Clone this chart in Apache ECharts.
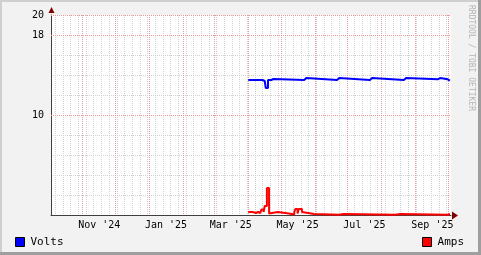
<!DOCTYPE html>
<html><head><meta charset="utf-8">
<script src="https://cdn.jsdelivr.net/npm/echarts@6/dist/echarts.min.js"></script>
<style>html,body{margin:0;padding:0;background:#f2f2f2}#c{width:481px;height:255px}</style>
</head><body><div id="c"></div>
<script>
// ---- data ----
const xRange = ['2024-10-03', '2025-10-03'];
const firstMonday = '2024-10-07';
const monthStarts = ['2024-11-01','2024-12-01','2025-01-01','2025-02-01','2025-03-01','2025-04-01',
  '2025-05-01','2025-06-01','2025-07-01','2025-08-01','2025-09-01','2025-10-01'];
const labelDates = ['2024-11-16','2025-01-16','2025-03-16','2025-05-16','2025-07-16','2025-09-16'];
const labelTexts = ["Nov '24","Jan '25","Mar '25","May '25","Jul '25","Sep '25"];
const yLabelValues = [10, 18, 20];

const voltsDates = ['2025-04-01','2025-04-14','2025-04-16','2025-04-17','2025-04-19','2025-04-22','2025-04-24',
  '2025-05-22','2025-05-24','2025-06-21','2025-06-23','2025-07-21','2025-07-23','2025-08-21','2025-08-23',
  '2025-09-21','2025-09-23','2025-09-30','2025-10-02'];
const voltsValues = [13.5,13.4,13.2,12.7,13.5,13.6,13.5,13.7,13.5,13.7,13.5,13.7,13.5,13.7,13.57,13.7,13.57,13.43,13.43];

const ampsDates = ['2025-04-01','2025-04-05','2025-04-08','2025-04-10','2025-04-12','2025-04-13','2025-04-15',
  '2025-04-16','2025-04-18','2025-04-20','2025-04-21','2025-04-28','2025-04-29','2025-05-08','2025-05-13',
  '2025-05-14','2025-05-16','2025-05-17','2025-05-20','2025-05-21','2025-05-31','2025-06-23','2025-06-27',
  '2025-08-13','2025-08-18','2025-09-30','2025-10-02'];
const ampsValues = [0.3,0.2,0.3,0.2,0.35,0.55,0.3,0.9,2.7,0.15,0.3,0.35,0.15,0.05,0.3,0.6,0.15,0.6,0.3,0.1,0.03,0.1,0.02,
  0.1,0.02,0.1,0.1];

// ---- build ----
const P = s => echarts.time.parse(s).getTime();
const DAY = 86400000;
const xMin = P(xRange[0]), xMax = P(xRange[1]);
const weekTicks = [];
for (let t = P(firstMonday); t < xMax; t += 7 * DAY) weekTicks.push(t);
const monthTicks = monthStarts.map(P);
const labelTicks = labelDates.map(P);
const labelMap = {};
labelTicks.forEach((t, i) => { labelMap[t] = labelTexts[i]; });

// each value holds from its date until the next date (rrdtool-style steps)
function toSteps(dates, values) {
  const out = [];
  dates.forEach((d, i) => {
    const t = P(d);
    if (i > 0) out.push([t, values[i - 1]]);
    out.push([t, values[i]]);
  });
  return out;
}

const FONT = 'DejaVu Sans Mono';
const gridGrey = '#d2d2d2';
const gridRed = '#eb9a9a';
const axisCol = '#404040';

const L = 51, T = 15, W = 400, H = 200;
const crisp = v => Math.floor(v) + 0.5;

// major (red) grid lines drawn through the axes' scales
function vLine(params, api) {
  const p0 = api.coord([api.value(0), 0]);
  const p1 = api.coord([api.value(0), 20]);
  const x = crisp(p0[0]);
  return {type: 'line', silent: true, shape: {x1: x, y1: p1[1], x2: x, y2: p0[1]},
    style: {stroke: gridRed, lineWidth: 1, lineDash: [1, 1], fill: null}};
}
function hLine(params, api) {
  const p0 = api.coord([xMin, api.value(1)]);
  const p1 = api.coord([xMax, api.value(1)]);
  const y = crisp(p0[1]);
  return {type: 'line', silent: true, shape: {x1: p0[0], y1: y, x2: p1[0], y2: y},
    style: {stroke: gridRed, lineWidth: 1, lineDash: [1, 1], fill: null}};
}

const chart = echarts.init(document.getElementById('c'), null, {renderer: 'canvas'});
chart.setOption({
  animation: false,
  backgroundColor: '#f2f2f2',
  textStyle: {fontFamily: FONT},
  grid: [
    {left: L, top: T, width: W, height: H, show: true, backgroundColor: '#ffffff', borderWidth: 0},
    {left: L, top: T, width: W, height: H, show: false}
  ],
  xAxis: [
    {gridIndex: 0, type: 'value', position: 'bottom', min: xMin, max: xMax, scale: true,
     axisLine: {show: true, onZero: false, lineStyle: {color: axisCol, width: 1}},
     axisTick: {show: false, customValues: weekTicks},
     axisLabel: {show: false},
     splitLine: {show: true, lineStyle: {color: gridGrey, type: [1, 1], width: 1}}},
    {gridIndex: 1, type: 'value', position: 'bottom', min: xMin, max: xMax, scale: true,
     axisLine: {show: false, onZero: false},
     axisTick: {show: false},
     axisLabel: {show: true, customValues: labelTicks, margin: 5, color: '#000', fontFamily: FONT, fontSize: 10,
       formatter: v => labelMap[v] || ''},
     splitLine: {show: false}}
  ],
  yAxis: [
    {gridIndex: 0, type: 'value', position: 'left', min: 0, max: 20, interval: 2,
     axisLine: {show: true, onZero: false, lineStyle: {color: axisCol, width: 1}},
     axisTick: {show: false}, axisLabel: {show: false},
     splitLine: {show: true, lineStyle: {color: gridGrey, type: [1, 1], width: 1}}},
    {gridIndex: 1, type: 'value', position: 'left', min: 0, max: 20,
     axisLine: {show: false, onZero: false},
     axisTick: {show: false},
     axisLabel: {show: true, customValues: yLabelValues, margin: 7, color: '#000', fontFamily: FONT, fontSize: 10},
     splitLine: {show: false}}
  ],
  legend: [
    {data: ['Volts'], left: 15, top: 236.5, padding: 0, icon: 'rect', itemWidth: 9, itemHeight: 9, itemGap: 0,
     selectedMode: false, itemStyle: {borderColor: '#000', borderWidth: 1},
     textStyle: {fontFamily: FONT, fontSize: 11, color: '#000', padding: [0, 0, 0, 1]}},
    {data: ['Amps'], right: 17, top: 236.5, padding: 0, icon: 'rect', itemWidth: 9, itemHeight: 9, itemGap: 0,
     selectedMode: false, itemStyle: {borderColor: '#000', borderWidth: 1},
     textStyle: {fontFamily: FONT, fontSize: 11, color: '#000', padding: [0, 0, 0, 1]}}
  ],
  series: [
    {name: 'monthGrid', type: 'custom', xAxisIndex: 0, yAxisIndex: 0, z: 1, silent: true, clip: false,
     renderItem: vLine, data: monthTicks.map(t => [t, 0]), encode: {x: 0, y: 1}, tooltip: {show: false}},
    {name: 'valueGrid', type: 'custom', xAxisIndex: 0, yAxisIndex: 0, z: 1, silent: true, clip: false,
     renderItem: hLine, data: yLabelValues.map(v => [xMin, v]), encode: {x: 0, y: 1}, tooltip: {show: false}},
    {name: 'Volts', type: 'line', xAxisIndex: 0, yAxisIndex: 0, showSymbol: false, smooth: false,
     color: '#0000ff', lineStyle: {width: 2, color: '#0000ff'}, z: 3,
     data: toSteps(voltsDates, voltsValues)},
    {name: 'Amps', type: 'line', xAxisIndex: 0, yAxisIndex: 0, showSymbol: false, smooth: false,
     color: '#ff0000', lineStyle: {width: 2, color: '#ff0000'}, z: 3,
     data: toSteps(ampsDates, ampsValues)}
  ],
  graphic: [
    {type: 'rect', shape: {x: 0, y: 0, width: 481, height: 2}, style: {fill: '#cfcfcf'}, silent: true},
    {type: 'rect', shape: {x: 0, y: 0, width: 2, height: 255}, style: {fill: '#cfcfcf'}, silent: true},
    {type: 'rect', shape: {x: 478, y: 0, width: 3, height: 255}, style: {fill: '#9e9e9e'}, silent: true},
    {type: 'rect', shape: {x: 0, y: 252, width: 481, height: 3}, style: {fill: '#9e9e9e'}, silent: true},
    {type: 'polygon', shape: {points: [[L + W + 1, T + H - 3.5], [L + W + 7, T + H + 0.5], [L + W + 1, T + H + 4.5]]},
     style: {fill: '#7f0000'}, silent: true, z: 10},
    {type: 'polygon', shape: {points: [[L - 2.5, T - 2], [L + 0.5, T - 8], [L + 3.5, T - 2]]},
     style: {fill: '#7f0000'}, silent: true, z: 10},
    {type: 'text', x: 471.5, y: 5, rotation: -Math.PI / 2, silent: true,
     style: {text: 'RRDTOOL / TOBI OETIKER', fill: '#b4b4b4', font: '8px "DejaVu Sans Mono"',
       textAlign: 'left', textVerticalAlign: 'middle'}}
  ]
});
</script></body></html>
